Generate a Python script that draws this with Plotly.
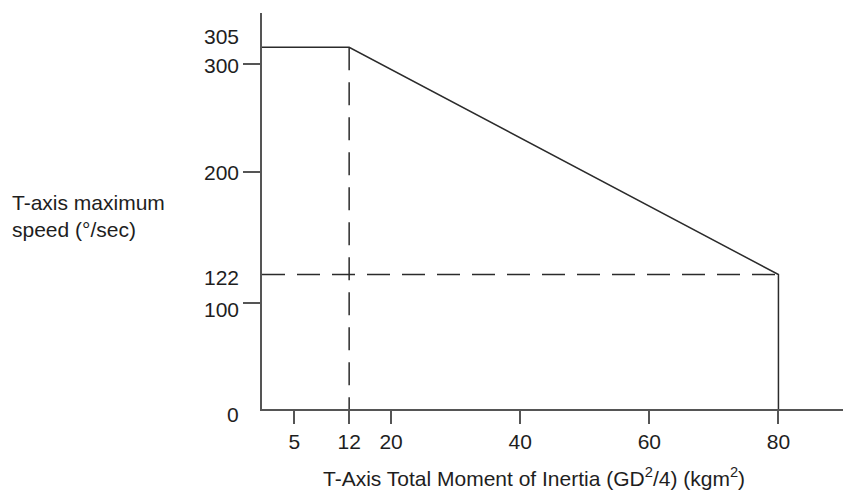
import numpy as np
import plotly.graph_objects as go

# ---- data (values as printed on the chart) ----
speed_curve_x = [0, 12, 80, 80]          # kgm2
speed_curve_y = [305, 305, 122, 0]       # deg/sec
dash_v_x = [12, 12]
dash_v_y = [305, 0]
dash_h_x = [0, 80]
dash_h_y = [122, 122]

x_tick_values = [5, 12, 20, 40, 60, 80]
y_label_values = [305, 300, 200, 122, 100, 0]
y_tick_values = [100, 200, 300]

# ---- schematic (not-to-scale) axes of the original drawing ----
x_scale_vals = [0, 5, 12, 20, 80, 100]
x_scale_pos = [0, 5, 13.5, 20, 80, 100]
y_scale_vals = [0, 100, 122, 200, 300, 305, 400]
y_scale_pos = [0, 105.7, 134.3, 236.7, 344.7, 361.3, 456.3]


def sx(v):
    return list(np.interp(v, x_scale_vals, x_scale_pos))


def sy(v):
    return list(np.interp(v, y_scale_vals, y_scale_pos))


LINE = "#2b2b2b"
AXIS = "#555555"
TXT = "#1e1e1e"
FONT = "Liberation Sans, Arial, Helvetica, sans-serif"
FS = 21

fig = go.Figure()
fig.add_trace(go.Scatter(x=sx(dash_v_x), y=sy(dash_v_y), mode="lines",
                         line=dict(color=LINE, width=1.5, dash="23px,12px"),
                         hoverinfo="skip", showlegend=False))
fig.add_trace(go.Scatter(x=sx(dash_h_x), y=sy(dash_h_y), mode="lines",
                         line=dict(color=LINE, width=1.5, dash="23px,12px"),
                         hoverinfo="skip", showlegend=False))
fig.add_trace(go.Scatter(x=sx(speed_curve_x), y=sy(speed_curve_y), mode="lines",
                         line=dict(color=LINE, width=1.5),
                         hoverinfo="skip", showlegend=False))

# y labels (some sit off their tick in the drawing)
y_label_shift = {305: 10.7, 300: -1.5, 200: 0, 122: -2.5, 100: -6, 0: -5}
for v in y_label_values:
    fig.add_annotation(x=-0.0361, xref="paper", y=sy([v])[0], yref="y",
                       text=str(v), showarrow=False, xanchor="right",
                       yanchor="middle", yshift=y_label_shift[v],
                       font=dict(family=FONT, size=FS, color=TXT))

fig.add_annotation(x=-0.4337, xref="paper", y=0.487, yref="paper",
                   text="T-axis maximum<br>speed (°/sec)", showarrow=False,
                   xanchor="left", yanchor="middle", align="left",
                   font=dict(family=FONT, size=FS, color=TXT))
fig.add_annotation(x=0.468, xref="paper", y=-0.172, yref="paper",
                   text="T-Axis Total Moment of Inertia (GD<sup>2</sup>/4) (kgm<sup>2</sup>)",
                   showarrow=False, xanchor="center", yanchor="middle",
                   font=dict(family=FONT, size=FS, color=TXT))

fig.update_layout(
    width=843, height=490,
    margin=dict(l=262, r=0, t=13, b=81),
    paper_bgcolor="white", plot_bgcolor="white",
    font=dict(family=FONT, size=FS, color=TXT),
    xaxis=dict(range=[0, 90], showgrid=False, zeroline=False,
               showline=True, linecolor=AXIS, linewidth=2,
               tickmode="array", tickvals=sx(x_tick_values),
               ticktext=[str(v) for v in x_tick_values],
               ticks="outside", ticklen=13, tickwidth=2, tickcolor=AXIS,
               ticklabelstandoff=0,
               tickfont=dict(family=FONT, size=FS, color=TXT)),
    yaxis=dict(range=[0, 395.5], showgrid=False, zeroline=False,
               showline=True, linecolor=AXIS, linewidth=2,
               tickmode="array", tickvals=sy(y_tick_values),
               ticks="outside", ticklen=17, tickwidth=2, tickcolor=AXIS,
               showticklabels=False),
)

fig.write_html(
    "out.html",
    config={"displayModeBar": False},
    post_script="document.body.style.margin='0';document.body.style.overflow='hidden';",
)
